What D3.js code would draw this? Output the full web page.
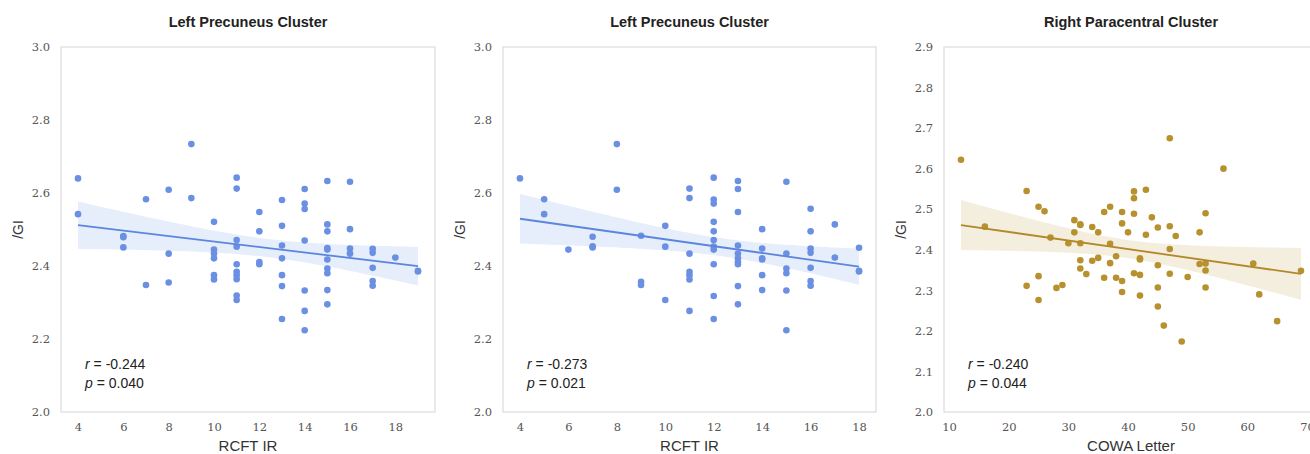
<!DOCTYPE html>
<meta charset="utf-8">
<style>
body { margin: 0; background: #fff; }
.tick text { font: 11.5px "DejaVu Serif", serif; fill: #555; }
.title { font: bold 14.5px "Liberation Sans", Arial, sans-serif; fill: #222; }
.axlabel { font: 15px "Liberation Sans", Arial, sans-serif; fill: #333; }
.ylabel { font: 14px "Liberation Sans", Arial, sans-serif; fill: #333; }
.stat { font: 14px "Liberation Sans", Arial, sans-serif; fill: #222; }
</style>
<svg width="1310" height="454"></svg>
<script src="https://d3js.org/d3.v7.min.js"></script>
<script>

// panel 1: Left Precuneus Cluster vs RCFT IR
var rcftA = [4,4, 6,6,6, 7,7, 8,8,8, 9,9,
  10,10,10,10,10,10, 11,11,11,11,11,11,11,11,11,11,
  12,12,12,12, 13,13,13,13,13,13,13, 14,14,14,14,14,14,14,
  15,15,15,15,15,15,15,15,15,15, 16,16,16,16, 17,17,17,17,17, 18, 19,19];
var giA = [2.640,2.542, 2.482,2.479,2.451, 2.583,2.348, 2.609,2.434,2.355, 2.734,2.586,
  2.521,2.445,2.434,2.421,2.375,2.363, 2.642,2.612,2.471,2.453,2.405,2.384,2.375,2.364,2.319,2.307,
  2.548,2.495,2.411,2.405, 2.581,2.510,2.456,2.421,2.375,2.345,2.255, 2.611,2.571,2.556,2.470,2.333,2.277,2.224,
  2.633,2.514,2.495,2.449,2.445,2.418,2.393,2.380,2.334,2.295, 2.631,2.501,2.448,2.434,
  2.447,2.436,2.395,2.359,2.346, 2.423, 2.387,2.385];

// panel 2: Left Precuneus Cluster vs RCFT IR (second measure)
var rcftB = [4, 5,5, 6, 7,7,7, 8,8, 9,9,9, 10,10,10,
  11,11,11,11,11,11,11, 12,12,12,12,12,12,12,12,12,12,12,
  13,13,13,13,13,13,13,13,13,13, 14,14,14,14,14,14, 15,15,15,15,15,15,
  16,16,16,16,16,16,16, 17,17, 18,18,18];
var giB = [2.640, 2.583,2.542, 2.445, 2.480,2.454,2.451, 2.734,2.609, 2.483,2.357,2.348, 2.510,2.453,2.307,
  2.612,2.586,2.434,2.384,2.375,2.363,2.277, 2.642,2.582,2.571,2.521,2.495,2.471,2.453,2.445,2.405,2.318,2.255,
  2.633,2.611,2.548,2.456,2.434,2.421,2.411,2.405,2.345,2.295, 2.501,2.448,2.421,2.418,2.375,2.334,
  2.631,2.434,2.393,2.380,2.333,2.224, 2.557,2.495,2.448,2.436,2.395,2.359,2.346, 2.514,2.423, 2.450,2.387,2.385];

// panel 3: Right Paracentral Cluster vs COWA Letter
var cowa = [12, 16, 23,23, 25,25,25, 26, 27, 28, 29, 30, 31,31, 32,32,32,32,32, 33, 34,34, 35,35,
  36,36, 37,37,37, 38,38, 39,39,39,39, 40, 41,41,41,41, 42,42,42,42, 43,43, 44,
  45,45,45,45, 46, 47,47,47,47, 48, 49, 50, 52,52, 53,53,53,53, 56, 61, 62, 65, 69];
var giC = [2.622, 2.457, 2.545,2.311, 2.506,2.335,2.276, 2.495, 2.430, 2.306, 2.313, 2.416, 2.473,2.443,
  2.463,2.461,2.416,2.374,2.354, 2.340, 2.456,2.373, 2.443,2.380,
  2.493,2.331, 2.506,2.415,2.367, 2.384,2.331, 2.493,2.465,2.323,2.296, 2.443,
  2.544,2.527,2.489,2.342, 2.379,2.376,2.338,2.287, 2.548,2.437, 2.480,
  2.455,2.362,2.307,2.260, 2.213, 2.675,2.458,2.402,2.341, 2.434, 2.174, 2.333,
  2.443,2.365, 2.490,2.366,2.349,2.307, 2.600, 2.366, 2.290, 2.224, 2.348];

var titles = ["Left Precuneus Cluster", "Left Precuneus Cluster", "Right Paracentral Cluster"];
var xLabels = ["RCFT IR", "RCFT IR", "COWA Letter"];
var rText = ["-0.244", "-0.273", "-0.240"];
var pText = ["0.040", "0.021", "0.044"];
var xTicksA = [4, 6, 8, 10, 12, 14, 16, 18];
var xTicksC = [10, 20, 30, 40, 50, 60, 70];
var yTicksAB = [2.0, 2.2, 2.4, 2.6, 2.8, 3.0];
var yTicksC = [2.0, 2.1, 2.2, 2.3, 2.4, 2.5, 2.6, 2.7, 2.8, 2.9];

var panels = [
  {x: rcftA, y: giA, left: 61, right: 435, yMax: 3.0, xt: xTicksA, yt: yTicksAB, dot: "#6a8fe3", line: "#5b86dd", band: "#e6edfb"},
  {x: rcftB, y: giB, left: 503, right: 876, yMax: 3.0, xt: xTicksA, yt: yTicksAB, dot: "#6a8fe3", line: "#5b86dd", band: "#e6edfb"},
  {x: cowa, y: giC, left: 944, right: 1318, yMax: 2.9, xt: xTicksC, yt: yTicksC, dot: "#b8912f", line: "#b3882a", band: "#f4eedf"}
];

var svg = d3.select("svg"),
    plotTop = 47, plotBottom = 412;

// simple OLS fit with a 95% confidence band
function fit(xs, ys) {
  var n = xs.length, mx = d3.mean(xs), my = d3.mean(ys);
  var sxx = d3.sum(xs, d => (d - mx) * (d - mx));
  var sxy = d3.sum(xs, (d, i) => (d - mx) * (ys[i] - my));
  var b = sxy / sxx, a = my - b * mx;
  var sse = d3.sum(xs, (d, i) => Math.pow(ys[i] - (a + b * d), 2));
  var s = Math.sqrt(sse / (n - 2)), t = 1.99;
  return {
    at: x => a + b * x,
    ci: x => t * s * Math.sqrt(1 / n + (x - mx) * (x - mx) / sxx)
  };
}

panels.forEach(function(p, k) {
  var ext = d3.extent(p.x), pad = (ext[1] - ext[0]) * 0.05;
  var x = d3.scaleLinear().domain([ext[0] - pad, ext[1] + pad]).range([p.left, p.right]);
  var y = d3.scaleLinear().domain([2.0, p.yMax]).range([plotBottom, plotTop]);
  var g = svg.append("g");

  g.append("rect")
      .attr("x", p.left).attr("y", plotTop)
      .attr("width", p.right - p.left).attr("height", plotBottom - plotTop)
      .attr("fill", "#fff").attr("stroke", "#dcdcdc").attr("stroke-width", 1.2);

  var f = fit(p.x, p.y);
  var xs = d3.range(101).map(i => ext[0] + (ext[1] - ext[0]) * i / 100);

  g.append("path")
      .datum(xs)
      .attr("fill", p.band)
      .attr("d", d3.area()
        .x(d => x(d))
        .y0(d => y(f.at(d) - f.ci(d)))
        .y1(d => y(f.at(d) + f.ci(d))));

  g.selectAll("circle")
    .data(p.x)
    .join("circle")
      .attr("cx", d => x(d))
      .attr("cy", (d, i) => y(p.y[i]))
      .attr("r", 3.3)
      .attr("fill", p.dot);

  g.append("line")
      .attr("x1", x(ext[0])).attr("y1", y(f.at(ext[0])))
      .attr("x2", x(ext[1])).attr("y2", y(f.at(ext[1])))
      .attr("stroke", p.line).attr("stroke-width", 1.8);

  var xAxis = g.append("g")
      .attr("transform", "translate(0," + (plotBottom + 6) + ")")
      .call(d3.axisBottom(x).tickValues(p.xt).tickSize(0).tickFormat(d3.format("d")));
  xAxis.select(".domain").remove();
  xAxis.selectAll("text").attr("dy", "0.9em");

  var yAxis = g.append("g")
      .attr("transform", "translate(" + (p.left - 8) + ",0)")
      .call(d3.axisLeft(y).tickValues(p.yt).tickSize(0).tickFormat(d3.format(".1f")));
  yAxis.select(".domain").remove();

  g.append("text").attr("class", "title")
      .attr("x", (p.left + p.right) / 2).attr("y", 27)
      .attr("text-anchor", "middle").text(titles[k]);

  g.append("text").attr("class", "axlabel")
      .attr("x", (p.left + p.right) / 2).attr("y", 451)
      .attr("text-anchor", "middle").text(xLabels[k]);

  g.append("text").attr("class", "ylabel")
      .attr("transform", "translate(" + (p.left - 38) + "," + ((plotTop + plotBottom) / 2) + ") rotate(-90)")
      .attr("text-anchor", "middle").text("/GI");

  var st = g.append("text").attr("class", "stat").attr("x", p.left + 24).attr("y", 369);
  st.append("tspan").attr("font-style", "italic").text("r");
  st.append("tspan").text(" = " + rText[k]);
  var sp = g.append("text").attr("class", "stat").attr("x", p.left + 24).attr("y", 388);
  sp.append("tspan").attr("font-style", "italic").text("p");
  sp.append("tspan").text(" = " + pText[k]);
});

</script>
